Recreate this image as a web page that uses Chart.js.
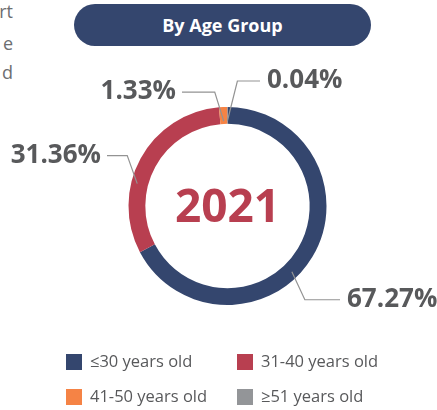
<!DOCTYPE html>
<html>
<head>
<meta charset="utf-8">
<script src="https://cdn.jsdelivr.net/npm/chart.js@4"></script>
<style>
  html, body { margin: 0; padding: 0; background: #fff; }
  #wrap { position: relative; width: 437px; height: 410px; overflow: hidden; font-family: "Open Sans", sans-serif; }
  #chart { position: absolute; left: 0; top: 0; }
  .frag { position: absolute; right: 424px; font-size: 18px; color: #6d6e71; white-space: nowrap; line-height: 20px; }
  #pill { position: absolute; left: 74px; top: 4px; width: 297px; height: 42px; border-radius: 21px; background: #34466e;
          color: #fff; font-weight: 700; font-size: 18px; line-height: 42px; text-align: center; }
  .lg { position: absolute; font-size: 16.5px; color: #58595b; line-height: 16px; white-space: nowrap; }
  .lg i { position: absolute; left: 0; top: 0; width: 16px; height: 16px; }
  .lg span { position: absolute; left: 24px; top: -1px; }
</style>
</head>
<body>
<div id="wrap">
  <div class="frag" style="top:1px">rt</div>
  <div class="frag" style="top:33px">e</div>
  <div class="frag" style="top:62px">d</div>
  <div id="pill">By Age Group</div>
  <canvas id="chart" width="437" height="410"></canvas>
  <div id="legend"></div>
</div>
<script>
// Workforce share by age group, 2021
const categories = ["≤30 years old", "31-40 years old", "41-50 years old", "≥51 years old"];
const shares = [67.27, 31.36, 1.33, 0.04];
const shareLabels = ["67.27%", "31.36%", "1.33%", "0.04%"];
const yearLabel = "2021";
const colors = ["#34466e", "#b83f50", "#f58345", "#939598"];

// Where each callout leaves the ring and how its leader line bends
const callouts = [
  { frac: 0.56, r: 92, dx: 13, dy: 28, endX: 340 },
  { frac: 0.37, r: 93, dx: -10, dy: -28, endX: 107 },
  { frac: 0.5,  r: 85, dx: -9, dy: -29, endX: 182 },
  { frac: 0.5,  r: 85, dx: 10, dy: -40, endX: 260 }
];

const calloutPlugin = {
  id: 'callouts',
  afterDraw(chart) {
    const ctx = chart.ctx;
    const arcs = chart.getDatasetMeta(0).data;
    ctx.save();
    arcs.forEach((arc, i) => {
      const c = callouts[i];
      const p = arc.getProps(['x', 'y', 'startAngle', 'endAngle'], true);
      const a = p.startAngle + c.frac * (p.endAngle - p.startAngle);
      const ax = p.x + Math.cos(a) * c.r;
      const ay = p.y + Math.sin(a) * c.r;
      const ex = ax + c.dx, ey = ay + c.dy;
      ctx.strokeStyle = '#939393';
      ctx.lineWidth = 1.2;
      ctx.beginPath();
      ctx.moveTo(ax, ay);
      ctx.lineTo(ex, ey);
      ctx.lineTo(c.endX, ey);
      ctx.stroke();
      ctx.fillStyle = '#58595b';
      ctx.font = '700 26px "Open Sans"';
      ctx.textBaseline = 'middle';
      if (c.endX > ex) {
        ctx.textAlign = 'left';
        ctx.fillText(shareLabels[i], c.endX + 7, ey);
      } else {
        ctx.textAlign = 'right';
        ctx.fillText(shareLabels[i], c.endX - 6, ey);
      }
    });
    const a0 = arcs[0];
    ctx.fillStyle = '#b83f50';
    ctx.font = '700 46px "Open Sans"';
    ctx.textAlign = 'center';
    ctx.textBaseline = 'middle';
    ctx.fillText(yearLabel, a0.x, a0.y + 3);
    ctx.restore();
  }
};

new Chart(document.getElementById('chart'), {
  type: 'doughnut',
  data: {
    labels: categories,
    datasets: [{ data: shares, backgroundColor: colors, borderWidth: 0 }]
  },
  options: {
    responsive: false,
    animation: false,
    cutout: '83%',
    layout: { padding: { left: 128.5, right: 110.5, top: 107, bottom: 105 } },
    plugins: { legend: { display: false }, tooltip: { enabled: false } }
  },
  plugins: [calloutPlugin]
});

// Two-column legend built from the categories
const legendPos = [[66, 354], [237, 354], [66, 389], [237, 389]];
const lg = document.getElementById('legend');
categories.forEach((name, i) => {
  const d = document.createElement('div');
  d.className = 'lg';
  d.style.left = legendPos[i][0] + 'px';
  d.style.top = legendPos[i][1] + 'px';
  d.innerHTML = '<i style="background:' + colors[i] + '"></i><span></span>';
  d.querySelector('span').textContent = name;
  lg.appendChild(d);
});
</script>
</body>
</html>
